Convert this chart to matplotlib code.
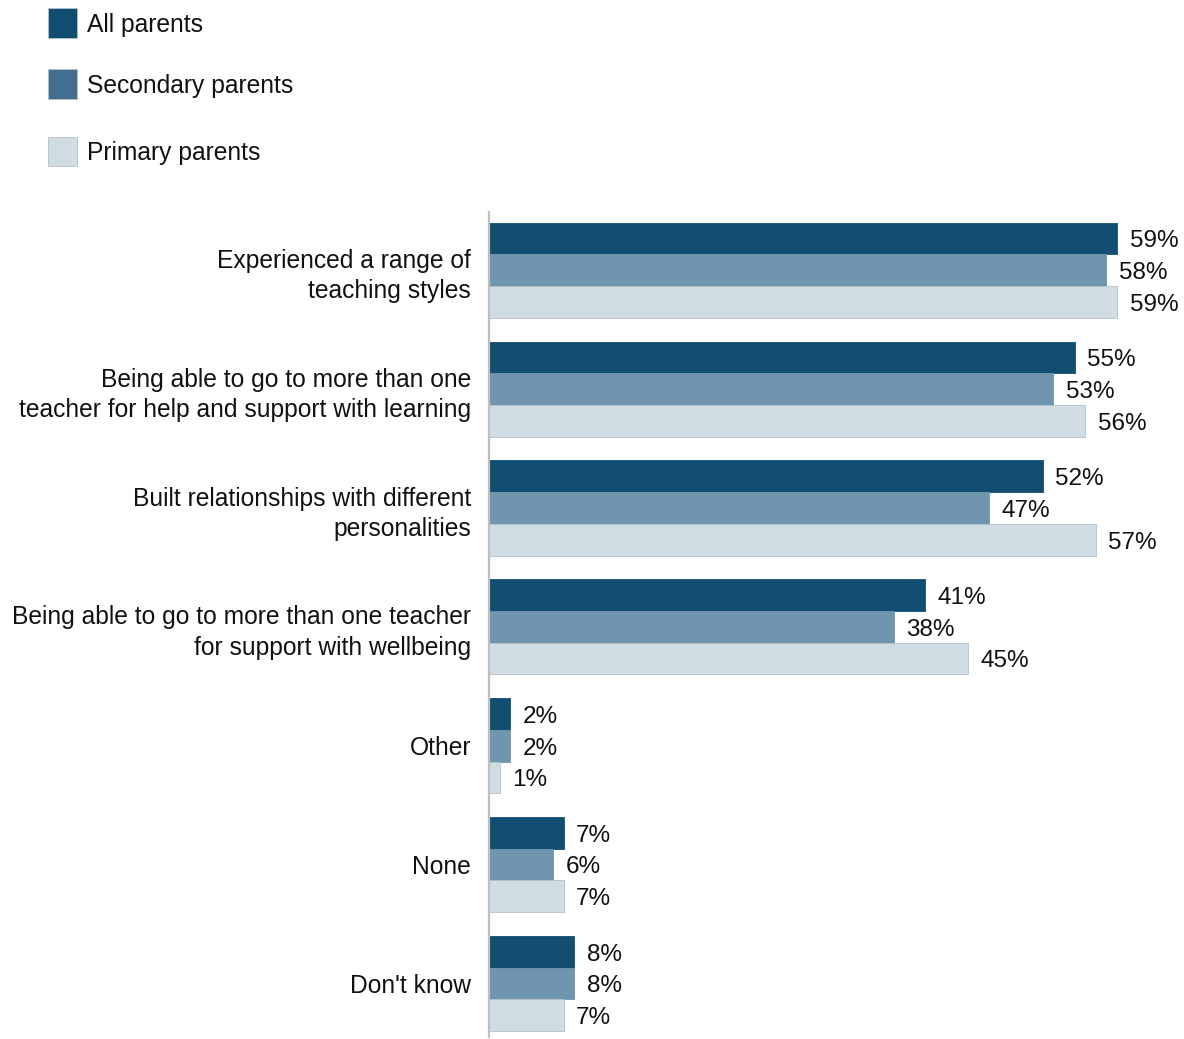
import matplotlib.pyplot as plt
import numpy as np
from matplotlib.patches import Rectangle

plt.rcParams["font.family"] = ["Liberation Sans", "DejaVu Sans"]

categories = [
    "Experienced a range of\nteaching styles",
    "Being able to go to more than one\nteacher for help and support with learning",
    "Built relationships with different\npersonalities",
    "Being able to go to more than one teacher\nfor support with wellbeing",
    "Other",
    "None",
    "Don't know",
]
all_parents = [59, 55, 52, 41, 2, 7, 8]
secondary_parents = [58, 53, 47, 38, 2, 6, 8]
primary_parents = [59, 56, 57, 45, 1, 7, 7]

series_names = ["All parents", "Secondary parents", "Primary parents"]
bar_colors = ["#114e72", "#7095ae", "#d0dce4"]
legend_colors = ["#114e72", "#426f8d", "#d0dce4"]

fig = plt.figure(figsize=(11.84, 10.39), dpi=100)
ax = fig.add_axes([489 / 1184, 2 / 1039, 692 / 1184, 825 / 1039])

y = np.arange(len(categories))
h = 0.267
for i, (vals, col) in enumerate(zip([all_parents, secondary_parents, primary_parents], bar_colors)):
    pos = y + (i - 1) * h
    ax.barh(pos, vals, height=h, color=col,
            edgecolor="#b4c0c9" if i == 2 else col, linewidth=0.6)
    for p, v in zip(pos, vals):
        ax.annotate(f"{v}%", (v, p), xytext=(9, -2), textcoords="offset points",
                    va="center", ha="left", fontsize=17.5, color="#111111")

ax.set_xlim(0, 65)
ax.set_ylim(6.45, -0.49)
ax.set_yticks(y)
ax.set_yticklabels(categories, fontsize=17.7, color="#111111")
for lbl in ax.get_yticklabels():
    lbl.set_linespacing(1.33)
ax.tick_params(axis="y", length=0, pad=13)
ax.set_xticks([])
for side in ["top", "right", "bottom"]:
    ax.spines[side].set_visible(False)
ax.spines["left"].set_color("#bfbfbf")
ax.spines["left"].set_linewidth(1.6)

# legend drawn by hand, with the uneven row spacing
legend_rows = [23, 84, 151]
for name, col, yc in zip(series_names, legend_colors, legend_rows):
    fy = 1 - yc / 1039
    fig.patches.append(Rectangle((48 / 1184, fy - 14.5 / 1039), 29 / 1184, 29 / 1039,
                                 transform=fig.transFigure, facecolor=col,
                                 edgecolor="#b4c0c9", linewidth=0.6))
    fig.text(87 / 1184, fy - 2 / 1039, name, fontsize=17.7, va="center", ha="left",
             color="#111111")

fig.savefig("out.png", dpi=100)
